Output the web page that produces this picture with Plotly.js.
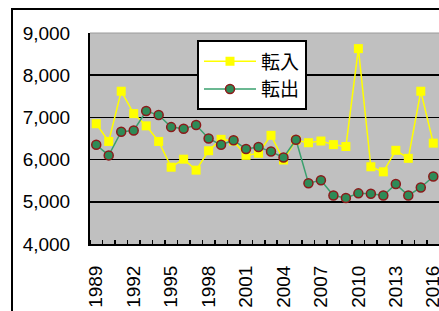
<!DOCTYPE html>
<html>
<head>
<meta charset="utf-8">
<script src="https://cdn.plot.ly/plotly-3.0.1.min.js"></script>
<style>
html,body{margin:0;padding:0;width:439px;height:311px;overflow:hidden;background:#fff;}
#chart{position:absolute;left:0;top:0;}
#frame{position:absolute;left:11px;top:8px;width:600px;height:400px;border:2px solid #000;pointer-events:none;box-sizing:border-box;}
</style>
</head>
<body>
<div id="chart"></div>
<div id="frame"></div>
<script>
const years = [1989,1990,1991,1992,1993,1994,1995,1996,1997,1998,1999,2000,2001,2002,2003,2004,2005,2006,2007,2008,2009,2010,2011,2012,2013,2014,2015,2016];
const tennyu = [6850,6430,7620,7090,6800,6430,5820,6010,5750,6210,6480,6440,6100,6150,6575,5990,6460,6400,6440,6355,6310,8630,5830,5710,6220,6030,7620,6390];
const tenshutsu = [6350,6100,6660,6690,7150,7055,6770,6730,6820,6500,6350,6460,6250,6300,6190,6050,6470,5440,5510,5150,5090,5200,5190,5150,5420,5150,5340,5600];
const xTickVals = [1989,1992,1995,1998,2001,2004,2007,2010,2013,2016];
const xTickText = ['1989','1992','1995','1998','2001','2004','2007','2010','2013','2016'];
const yTickVals = [4000,5000,6000,7000,8000,9000];
const yTickText = ['4,000','5,000','6,000','7,000','8,000','9,000'];

const fontFam = '"Liberation Sans", Arial, "Noto Sans CJK JP", sans-serif';

const traces = [
  {x: years, y: tennyu, name: '転入', type: 'scatter', mode: 'lines+markers',
   line: {color: '#ffff00', width: 1.5},
   marker: {symbol: 'square', size: 9, color: '#ffff00', line: {width: 0}}},
  {x: years, y: tenshutsu, name: '転出', type: 'scatter', mode: 'lines+markers',
   line: {color: '#3aa06e', width: 1.5},
   marker: {symbol: 'circle', size: 9, color: '#2e8b57', line: {color: '#8b1a1a', width: 1.5}}}
];

const layout = {
  width: 470, height: 311,
  margin: {l: 90, r: 18, t: 33, b: 67, pad: 0},
  paper_bgcolor: '#ffffff',
  plot_bgcolor: '#c0c0c0',
  showlegend: true,
  font: {family: fontFam, size: 19, color: '#000'},
  legend: {
    x: 0.2956, y: 0.965, xanchor: 'left', yanchor: 'top',
    bgcolor: '#ffffff', bordercolor: '#000000', borderwidth: 2,
    font: {family: '"Noto Sans CJK JP", sans-serif', size: 19, color: '#000'},
    itemwidth: 52, tracegroupgap: 0
  },
  shapes: [
    {type: 'line', xref: 'paper', yref: 'paper', x0: 0, x1: 1, y0: 1, y1: 1,
     line: {color: '#9a9a9a', width: 1}}
  ],
  xaxis: {
    type: 'linear', range: [1988.5, 2017.5],
    tickmode: 'array', tickvals: xTickVals, ticktext: xTickText,
    tickangle: -90, ticks: '', showgrid: false, zeroline: false,
    showline: true, linecolor: '#000', linewidth: 2,
    tickfont: {family: fontFam, size: 19, color: '#000'},
    ticklabelstandoff: 12,
    minor: {tickmode: 'linear', tick0: 1988.5, dtick: 1, ticks: 'inside', ticklen: 4, tickcolor: '#000', tickwidth: 1.5, showgrid: false}
  },
  yaxis: {
    range: [4000, 9000],
    tickmode: 'array', tickvals: yTickVals, ticktext: yTickText,
    ticks: 'inside', ticklen: 6, tickcolor: '#000', tickwidth: 1.5,
    showgrid: true, gridcolor: '#000', gridwidth: 1.5, zeroline: false,
    showline: true, linecolor: '#000', linewidth: 2,
    tickfont: {family: fontFam, size: 19, color: '#000'},
    ticklabelstandoff: 14
  }
};

Plotly.newPlot('chart', traces, layout, {displayModeBar: false, responsive: false, staticPlot: true});
</script>
</body>
</html>
